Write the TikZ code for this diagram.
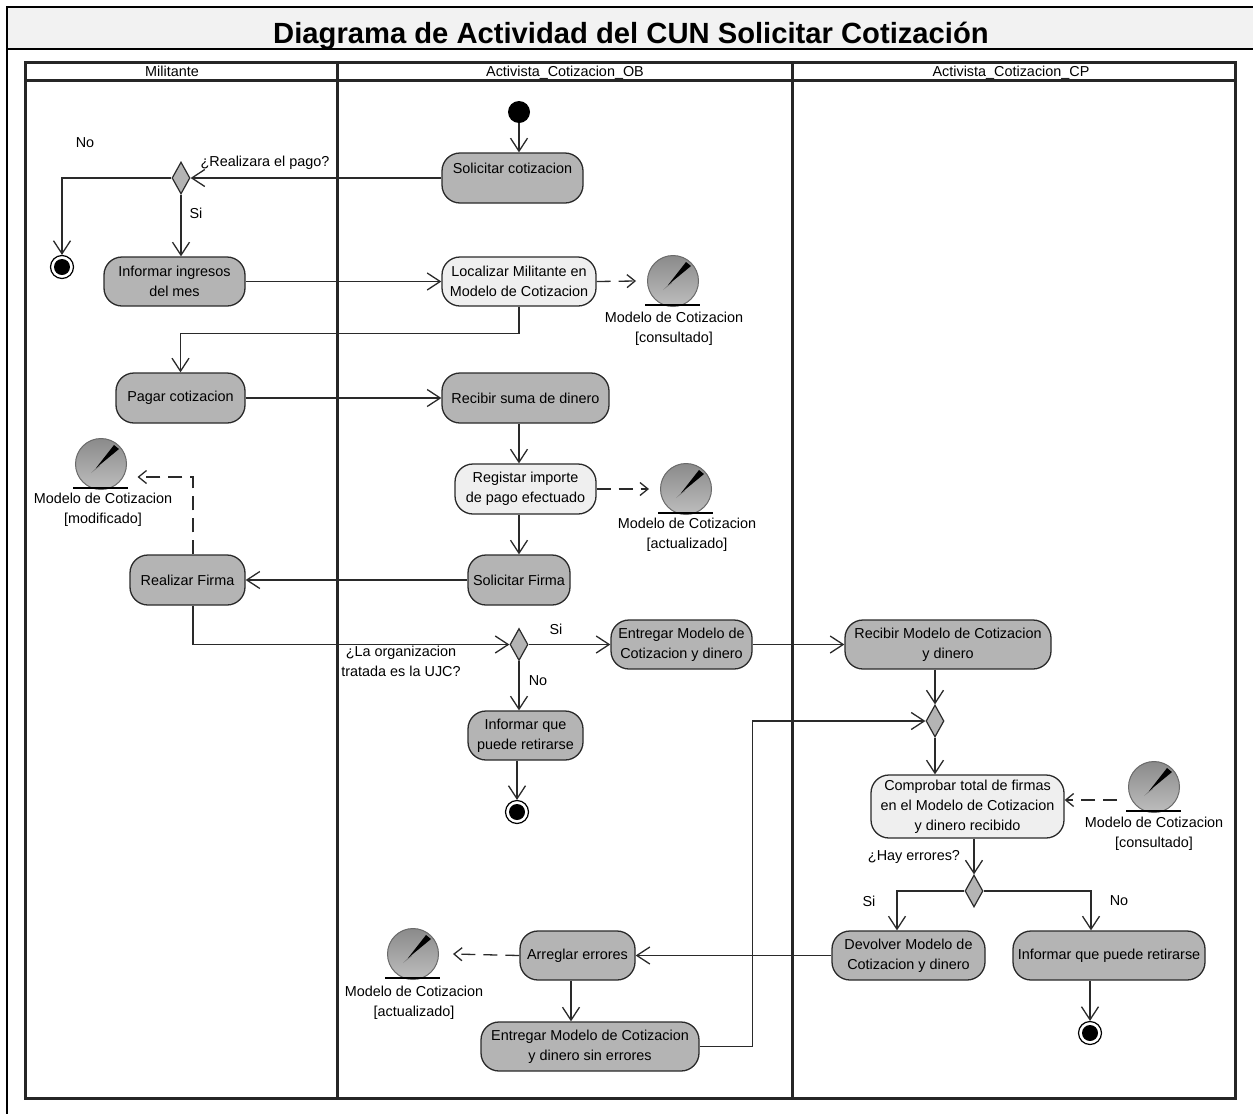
\documentclass[tikz,border=0pt]{standalone}
\usepackage{fontspec}
\setmainfont{Liberation Sans}
\usetikzlibrary{arrows.meta,shapes.geometric}
\definecolor{actgray}{HTML}{B4B4B4}
\definecolor{actlight}{HTML}{EFEFEF}
\definecolor{titlebg}{HTML}{F2F2F2}
\definecolor{lineg}{HTML}{2A2A2A}
\definecolor{objdark}{HTML}{8A8A8A}
\definecolor{objlight}{HTML}{BEBEBE}
\tikzset{
  act/.style={draw=lineg,line width=1.3pt,rounded corners=18pt,fill=actgray,align=center,inner sep=0pt,font=\fontsize{14.4}{20}\selectfont},
  actl/.style={act,fill=actlight},
  dec/.style={diamond,draw=lineg,line width=1.2pt,fill=actgray,inner sep=0pt,minimum width=18pt,minimum height=32pt},
  startn/.style={circle,fill=black,inner sep=0pt,minimum size=22pt},
  endo/.style={circle,draw=black,line width=1.2pt,fill=white,inner sep=0pt,minimum size=23pt},
  lbl/.style={align=center,inner sep=0pt,font=\fontsize{14.4}{20}\selectfont},
  flow/.style={draw=lineg,line width=1.3pt,-{Straight Barb[length=13pt,width=17pt,line width=1.3pt]}},
  dep/.style={draw=lineg,line width=1.3pt,dash pattern=on 14pt off 8pt,-{Straight Barb[length=8pt,width=13pt,line width=1.3pt]}},
  objc/.style={circle,draw=lineg!70,line width=1pt,inner sep=0pt,minimum size=51pt,shading=axis,top color=objdark,bottom color=objlight,shading angle=0},
  lane/.style={line width=3pt,draw=black!85},
}
\newcommand{\dataobj}[3]{%
  \node[objc] (#1) at (#2,#3) {};
  \fill[black!55] (#2-10,#3+9) -- (#2-2,#3+1) -- (#2-1,#3+2) -- cycle;
  \fill[black] (#2-5,#3+4) -- (#2+13,#3-19) -- (#2+18,#3-15) -- cycle;
  \draw[line width=2.6pt,black] (#2-28,#3+24) -- (#2+27,#3+24);
}
\begin{document}
\begin{tikzpicture}[x=1pt,y=-1pt]
\useasboundingbox (0,0) rectangle (1253,1114);
\fill[white] (0,0) rectangle (1253,1114);
% frame
\fill[titlebg] (7,7) rectangle (1253,49);
\draw[line width=2pt,black] (1253,7) -- (7,7) -- (7,1114);
\draw[line width=2pt,black] (7,49) -- (1253,49);
\node[lbl,font=\bfseries\fontsize{29.2}{32}\selectfont,anchor=base] (title) at (631,43) {Diagrama de Actividad del CUN Solicitar Cotización};
% swimlanes
\draw[lane,line width=2pt] (25,62) -- (1235,62);
\draw[lane] (25,62) rectangle (1235,1098);
\draw[lane] (25,80) -- (1235,80);
\draw[lane] (337,62) -- (337,1098);
\draw[lane] (792,62) -- (792,1098);
\node[lbl,anchor=base] (h1) at (172,76) {Militante};
\node[lbl,anchor=base] (h2) at (565,76) {Activista\_Cotizacion\_OB};
\node[lbl,anchor=base] (h3) at (1011,76) {Activista\_Cotizacion\_CP};
% activities
\node[act,minimum width=141pt,minimum height=50pt] (scot) at (512.5,178) {Solicitar cotizacion\\~};
\node[act,minimum width=141pt,minimum height=49pt] (ing) at (174.5,281.5) {Informar ingresos\\del mes};
\node[actl,minimum width=154pt,minimum height=49pt] (loc) at (519,281.5) {Localizar Militante en\\Modelo de Cotizacion};
\node[act,minimum width=129pt,minimum height=50pt] (pag) at (180.5,398) {Pagar cotizacion};
\node[act,minimum width=167pt,minimum height=50pt] (rsum) at (525.5,398) {Recibir suma de dinero};
\node[actl,minimum width=141pt,minimum height=50pt] (reg) at (525.5,489) {Registar importe\\de pago efectuado};
\node[act,minimum width=102pt,minimum height=50pt] (sfir) at (519,580) {Solicitar Firma};
\node[act,minimum width=115pt,minimum height=50pt] (rfir) at (187.5,580) {Realizar Firma};
\node[act,minimum width=141pt,minimum height=49pt] (ent) at (681.5,644.5) {Entregar Modelo de\\Cotizacion y dinero};
\node[act,minimum width=206pt,minimum height=49pt] (rmod) at (948,644.5) {Recibir Modelo de Cotizacion\\y dinero};
\node[act,minimum width=115pt,minimum height=49pt] (iret) at (525.5,735.5) {Informar que\\puede retirarse};
\node[actl,minimum width=193pt,minimum height=63pt] (comp) at (967.5,806.5) {Comprobar total de firmas\\en el Modelo de Cotizacion\\y dinero recibido};
\node[act,minimum width=153pt,minimum height=49pt] (dev) at (908.5,955.5) {Devolver Modelo de\\Cotizacion y dinero};
\node[act,minimum width=192pt,minimum height=49pt] (iret2) at (1109,955.5) {Informar que puede retirarse};
\node[act,minimum width=115pt,minimum height=49pt] (arr) at (577.5,955.5) {Arreglar errores};
\node[act,minimum width=218pt,minimum height=49pt] (esin) at (590,1046.5) {Entregar Modelo de Cotizacion\\y dinero sin errores};
% decisions
\node[dec] (d1) at (181,178) {};
\node[dec] (d2) at (519,644.5) {};
\node[dec] (d3) at (935,721) {};
\node[dec] (d4) at (974,891) {};
% start / end
\node[startn] (ini) at (519,112) {};
\node[endo] (f1) at (62,267) {}; \node[startn,minimum size=16pt] (f1b) at (f1) {};
\node[endo] (f2) at (517,812) {}; \node[startn,minimum size=16pt] (f2b) at (f2) {};
\node[endo] (f3) at (1090,1033) {}; \node[startn,minimum size=16pt] (f3b) at (f3) {};
% data objects
\dataobj{o1}{673}{281}
\dataobj{o2}{101}{464}
\dataobj{o3}{686}{489}
\dataobj{o4}{1154}{787}
\dataobj{o5}{413}{954}
\node[lbl] (t1) at (674,329) {Modelo de Cotizacion\\{[consultado]}};
\node[lbl] (t2) at (103,510) {Modelo de Cotizacion\\{[modificado]}};
\node[lbl] (t3) at (687,535) {Modelo de Cotizacion\\{[actualizado]}};
\node[lbl] (t4) at (1154,834) {Modelo de Cotizacion\\{[consultado]}};
\node[lbl] (t5) at (414,1003) {Modelo de Cotizacion\\{[actualizado]}};
% labels
\node[lbl] (l1) at (85,143) {No};
\node[lbl] (l2) at (265,163) {¿Realizara el pago?};
\node[lbl] (l3) at (196,213) {Si};
\node[lbl] (l4) at (401,661) {¿La organizacion\\tratada es la UJC?};
\node[lbl] (l5) at (556,629) {Si};
\node[lbl] (l6) at (538,681) {No};
\node[lbl] (l7) at (914,857) {¿Hay errores?};
\node[lbl] (l8) at (869,901) {Si};
\node[lbl] (l9) at (1119,901) {No};
% flows
\coordinate (m1) at (193,477);
\draw[flow] (ini) -- ([xshift=6.5pt]scot.north);
\draw[flow] (scot.west) -- (d1.east);
\draw[flow] (d1.west) -| (f1.north);
\draw[flow] (d1.south) -- ([xshift=6.5pt]ing.north);
\draw[flow] (ing.east) -- (loc.west);
\draw[flow] (loc.south) -- ++(0,27) -| (pag.north);
\draw[flow] (pag.east) -- (rsum.west);
\draw[flow] ([xshift=-6.5pt]rsum.south) -- ([xshift=-6.5pt]reg.north);
\draw[flow] ([xshift=-6.5pt]reg.south) -- (sfir.north);
\draw[flow] (sfir.west) -- (rfir.east);
\draw[flow] ([xshift=5.5pt]rfir.south) |- (d2.west);
\draw[flow] (d2.east) -- (ent.west);
\draw[flow] (d2.south) -- ([xshift=-6.5pt]iret.north);
\draw[flow] ([xshift=-8.5pt]iret.south) -- (f2.north);
\draw[flow] (ent.east) -- (rmod.west);
\draw[flow] ([xshift=-13pt]rmod.south) -- (d3.north);
\draw[flow] (d3.south) -- ([xshift=-32.5pt]comp.north);
\draw[flow] ([xshift=6.5pt]comp.south) -- (d4.north);
\draw[flow] (d4.west) -| ([xshift=-11.5pt]dev.north);
\draw[flow] (d4.east) -| ([xshift=-18pt]iret2.north);
\draw[flow] (dev.west) -- (arr.east);
\draw[flow] ([xshift=-6.5pt]arr.south) -- ([xshift=-19pt]esin.north);
\draw[flow] (esin.east) -- ++(53,0) |- (d3.west);
\draw[flow] ([xshift=-19pt]iret2.south) -- (f3.north);
% dependencies
\draw[dep] (loc.east) -- ([xshift=-11pt]o1.west);
\draw[dep] (reg.east) -- ([xshift=-11pt]o3.west);
\draw[dep] (arr.west) -- ([xshift=14pt]o5.east);
\draw[dep] ([xshift=5.5pt]rfir.north) -- (m1) -- ([xshift=10.5pt]o2.east |- m1);
\draw[dep] ([xshift=-11pt,yshift=-13pt]o4.west) -- ([yshift=6.5pt]comp.east);
\end{tikzpicture}
\end{document}
